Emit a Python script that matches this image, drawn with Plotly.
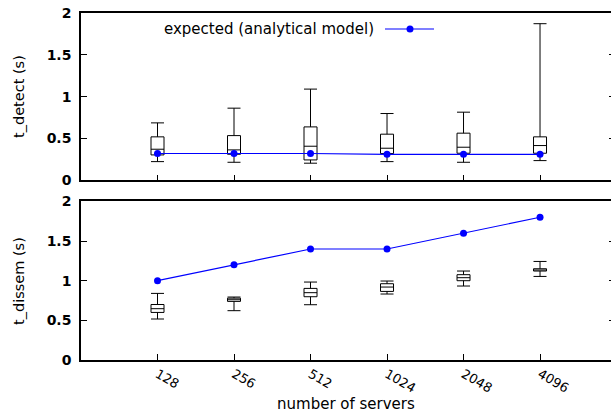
import plotly.graph_objects as go

# ---- data ----
servers = ["128", "256", "512", "1024", "2048", "4096"]
xpos = [1, 2, 3, 4, 5, 6]

detect_low = [0.223, 0.215, 0.204, 0.223, 0.215, 0.235]
detect_q1 = [0.303, 0.311, 0.243, 0.319, 0.323, 0.323]
detect_med = [0.371, 0.363, 0.407, 0.383, 0.395, 0.415]
detect_q3 = [0.519, 0.534, 0.638, 0.551, 0.563, 0.519]
detect_high = [0.686, 0.862, 1.09, 0.798, 0.814, 1.872]
detect_expected = [0.32, 0.32, 0.32, 0.31, 0.31, 0.31]

dissem_low = [0.517, 0.622, 0.697, 0.832, 0.933, 1.054]
dissem_q1 = [0.600, 0.739, 0.798, 0.865, 1.000, 1.122]
dissem_med = [0.647, 0.760, 0.849, 0.920, 1.038, 1.135]
dissem_q3 = [0.700, 0.780, 0.903, 0.962, 1.076, 1.151]
dissem_high = [0.840, 0.794, 0.983, 0.996, 1.122, 1.243]
dissem_expected = [1.0, 1.2, 1.4, 1.4, 1.6, 1.8]

y_ticks = [0, 0.5, 1, 1.5, 2]
y_ticklabels = ["0", "0.5", "1", "1.5", "2"]

legend_label = "expected (analytical model)"

# ---- figure ----
W, H = 615, 415
ML, MR, MT, MB = 81, 0, 13, 55
PW = W - ML - MR
PH = H - MT - MB

BLUE = "#0000ff"
FONT = "DejaVu Sans, Liberation Sans, Arial, sans-serif"

fig = go.Figure()

box_style = dict(
    boxpoints=False,
    line=dict(color="black", width=1),
    fillcolor="rgba(0,0,0,0)",
    width=0.17,
    whiskerwidth=1,
    showlegend=False,
    hoverinfo="skip",
)

fig.add_trace(go.Box(
    x=xpos, q1=detect_q1, median=detect_med, q3=detect_q3,
    lowerfence=detect_low, upperfence=detect_high,
    xaxis="x", yaxis="y", **box_style))
fig.add_trace(go.Scatter(
    x=xpos, y=detect_expected, mode="lines+markers",
    line=dict(color=BLUE, width=1.2), marker=dict(color=BLUE, size=7),
    xaxis="x", yaxis="y", showlegend=False, name=legend_label))

fig.add_trace(go.Box(
    x=xpos, q1=dissem_q1, median=dissem_med, q3=dissem_q3,
    lowerfence=dissem_low, upperfence=dissem_high,
    xaxis="x2", yaxis="y2", **box_style))
fig.add_trace(go.Scatter(
    x=xpos, y=dissem_expected, mode="lines+markers",
    line=dict(color=BLUE, width=1.2), marker=dict(color=BLUE, size=7),
    xaxis="x2", yaxis="y2", showlegend=False, name=legend_label))

xrange = [0, 6.98]
common_x = dict(
    range=xrange, tickvals=xpos, ticktext=servers,
    showline=True, linecolor="black", linewidth=1.5, mirror=True,
    ticks="inside", ticklen=6, tickwidth=1, tickcolor="black",
    showgrid=False, zeroline=False, domain=[0, 1], automargin=False,
)
common_y = dict(
    range=[0, 2], tickvals=y_ticks, ticktext=y_ticklabels,
    showline=True, linecolor="black", linewidth=1.5, mirror="ticks",
    ticks="inside", ticklen=6, tickwidth=1, tickcolor="black",
    showgrid=False, zeroline=False, automargin=False,
    tickfont=dict(family=FONT, size=14, color="black", weight="bold"),
    ticklabelstandoff=5, ticklabeloverflow="allow",
)

fig.update_layout(
    width=W, height=H,
    margin=dict(l=ML, r=MR, t=MT, b=MB, pad=0),
    paper_bgcolor="white", plot_bgcolor="white",
    font=dict(family=FONT, size=14, color="black"),
    showlegend=False,
    xaxis=dict(anchor="y", showticklabels=False, **common_x),
    yaxis=dict(anchor="x", domain=[0.518, 1.0], **common_y),
    xaxis2=dict(anchor="y2", showticklabels=True, tickangle=30,
                tickfont=dict(family=FONT, size=13, color="black"), **common_x),
    yaxis2=dict(anchor="x2", domain=[0.0, 0.457], **common_y),
)

def px_x(p):
    return (p - ML) / PW

def px_y(p):
    return (H - MB - p) / PH

annotations = [
    dict(text="t_detect (s)", x=px_x(19), y=px_y(97), xref="paper", yref="paper",
         textangle=-90, showarrow=False, xanchor="center", yanchor="middle",
         font=dict(family=FONT, size=14.5, color="black")),
    dict(text="t_dissem (s)", x=px_x(19), y=px_y(281), xref="paper", yref="paper",
         textangle=-90, showarrow=False, xanchor="center", yanchor="middle",
         font=dict(family=FONT, size=14.5, color="black")),
    dict(text="number of servers", x=px_x(346), y=px_y(404), xref="paper", yref="paper",
         showarrow=False, xanchor="center", yanchor="middle",
         font=dict(family=FONT, size=15, color="black")),
    dict(text=legend_label, x=px_x(376), y=px_y(29), xref="paper", yref="paper",
         showarrow=False, xanchor="right", yanchor="middle",
         font=dict(family=FONT, size=15, color="black")),
]
fig.update_layout(annotations=annotations)

# legend sample (line + marker) drawn to the right of the legend text
r = 3.5
fig.update_layout(shapes=[
    dict(type="line", xref="paper", yref="paper",
         x0=px_x(385), x1=px_x(434), y0=px_y(29), y1=px_y(29),
         line=dict(color=BLUE, width=1.2)),
    dict(type="circle", xref="paper", yref="paper",
         x0=px_x(410 - r), x1=px_x(410 + r), y0=px_y(29 + r), y1=px_y(29 - r),
         fillcolor=BLUE, line=dict(color=BLUE, width=0)),
])

fig.write_html(
    "out.html",
    config={"displayModeBar": False},
    post_script="document.body.style.margin='0';"
                "document.documentElement.style.overflow='hidden';"
                "document.body.style.overflow='hidden';",
)
